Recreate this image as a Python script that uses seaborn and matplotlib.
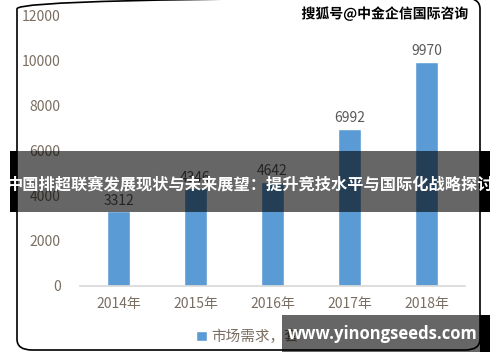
import matplotlib
matplotlib.use("Agg")
import matplotlib.pyplot as plt
import matplotlib.patheffects as pe
from matplotlib.patches import Rectangle, FancyBboxPatch
import pandas as pd
import seaborn as sns

years = ["2014年", "2015年", "2016年", "2017年", "2018年"]
demand = [3312, 4346, 4642, 6992, 9970]
series_name = "市场需求，套"
yticks = [0, 2000, 4000, 6000, 8000, 10000, 12000]
title = "中国排超联赛发展现状与未来展望：提升竞技水平与国际化战略探讨"
source = "搜狐号@中金企信国际咨询"
site = "www.yinongseeds.com"

sns.set_theme(style="white")
plt.rcParams["font.family"] = ["Noto Sans CJK SC", "DejaVu Sans"]

df = pd.DataFrame({"year": years, "value": demand, "series": series_name})

fig = plt.figure(figsize=(5, 3.62), dpi=100, facecolor="white")
ax = fig.add_axes([0.16, 0.21, 0.77, 0.746])

sns.barplot(data=df, x="year", y="value", hue="series", palette=["#5B9BD5"],
            width=0.31, ax=ax, saturation=1)

txt = "#7a6e62"
ax.set_ylim(0, 12000)
ax.set_yticks(yticks)
ax.set_yticklabels([str(t) for t in yticks], color=txt, fontsize=10)
ax.tick_params(axis="x", colors=txt, labelsize=10, length=0, pad=8)
ax.tick_params(axis="y", length=0, pad=14)
ax.set_xlabel("")
ax.set_ylabel("")
for s in ["top", "right", "left"]:
    ax.spines[s].set_visible(False)
ax.spines["bottom"].set_color("#d9d9d9")
ax.set_facecolor("none")

for i, v in enumerate(demand):
    ax.text(i, v + 150, str(v), ha="center", va="bottom", color="#595959", fontsize=10)

leg = ax.legend(loc="center", bbox_to_anchor=(0.435, -0.19), frameon=False,
                handlelength=0.7, handleheight=0.7, handletextpad=0.3, fontsize=10.5)
for t in leg.get_texts():
    t.set_color(txt)

# rounded frame
W, H = 500, 362
frame = FancyBboxPatch((17 / W, 1 - 350 / H), 463 / W, 352 / H,
                       boxstyle="round,pad=0,rounding_size=0.03",
                       transform=fig.transFigure, fill=False, ec="black", lw=1.2)
fig.patches.append(frame)

fig.text(468 / W, 1 - 14 / H, source, ha="right", va="center", fontsize=10,
         fontweight="bold", color="black",
         path_effects=[pe.withStroke(linewidth=2, foreground="white")])

# title banner
fig.patches.append(Rectangle((10 / W, 1 - 212 / H), 480 / W, 61 / H,
                             transform=fig.transFigure, color="black", alpha=0.6, lw=0))
fig.patches.append(Rectangle((10 / W, 1 - 212 / H), 7 / W, 61 / H,
                             transform=fig.transFigure, color="black", lw=0))
fig.patches.append(Rectangle((480 / W, 1 - 212 / H), 10 / W, 61 / H,
                             transform=fig.transFigure, color="black", lw=0))
fig.text(250 / W, 1 - 184 / H, title, ha="center", va="center", fontsize=11.7,
         fontweight="bold", color="white")

# site watermark
fig.patches.append(Rectangle((282 / W, 1 - 352 / H), 208 / W, 37 / H,
                             transform=fig.transFigure, color="black", alpha=0.6, lw=0))
fig.patches.append(Rectangle((480 / W, 1 - 352 / H), 10 / W, 37 / H,
                             transform=fig.transFigure, color="black", lw=0))
fig.text(383 / W, 1 - 334 / H, site, ha="center", va="center", fontsize=12,
         fontweight="bold", color="white", family=["Open Sans", "DejaVu Sans"])

fig.savefig("out.png", dpi=100)
